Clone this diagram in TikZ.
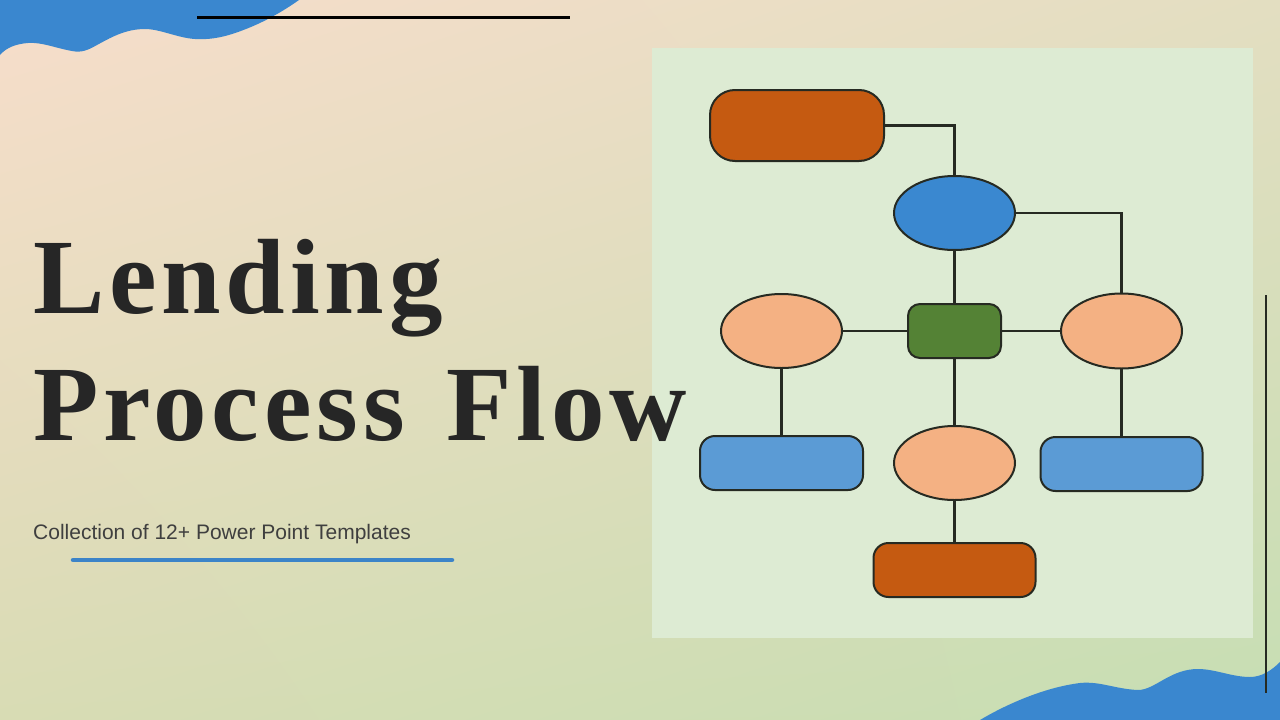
\documentclass[tikz,border=0pt]{standalone}
\usepackage{fontspec}
\setmainfont{Liberation Serif}
\newfontfamily\titlefont[LetterSpace=4.5]{Liberation Serif}
\newfontfamily\subfont{Liberation Sans}
\usetikzlibrary{shapes.geometric,shadings}
\definecolor{bgTL}{HTML}{F7DDCB}
\definecolor{bgTR}{HTML}{E3DEC1}
\definecolor{bgBL}{HTML}{D8DCB4}
\definecolor{bgBR}{HTML}{C6DEB3}
\definecolor{panelC}{HTML}{DDEBD3}
\definecolor{waveC}{HTML}{3A87CF}
\definecolor{orangeC}{HTML}{C55A11}
\definecolor{blueEl}{HTML}{3A88D0}
\definecolor{peachC}{HTML}{F4B183}
\definecolor{greenC}{HTML}{548235}
\definecolor{blueBox}{HTML}{5B9BD5}
\definecolor{lineC}{HTML}{262A22}
\definecolor{titleC}{HTML}{262626}
\definecolor{subC}{HTML}{3F3F3F}
\definecolor{ulineC}{HTML}{3C84C8}
\tikzset{
  shapebase/.style={draw=lineC, line width=2pt, inner sep=0pt, outer sep=0pt},
  pill/.style={shapebase, rectangle},
  oval/.style={shapebase, ellipse},
  link/.style={draw=lineC, line width=2.2pt},
  titletext/.style={anchor=base west, inner sep=0pt, text=titleC, font=\titlefont\bfseries\fontsize{107}{107}\selectfont},
}
\begin{document}
\begin{tikzpicture}[x=1pt,y=-1pt]
\useasboundingbox (0,0) rectangle (1280,720);
% background
\shade[upper left=bgTL, upper right=bgTR, lower left=bgBL, lower right=bgBR] (0,0) rectangle (1280,720);
% top-left wave
\fill[waveC] (0,0) -- (299,0)
  .. controls (282,12) and (264,22) .. (246,29)
  .. controls (226,37) and (211,40) .. (195,39)
  .. controls (178,38) and (160,29) .. (145,29)
  .. controls (125,29) and (110,38) .. (97,45)
  .. controls (88,50) and (82,53) .. (72,51)
  .. controls (55,48) and (42,42) .. (28,43)
  .. controls (15,44) and (6,48) .. (0,55) -- cycle;
% bottom-right wave
\fill[waveC] (1280,720) -- (980,720)
  .. controls (1000,708) and (1040,688) .. (1080,683)
  .. controls (1100,681) and (1115,689) .. (1138,690)
  .. controls (1155,690) and (1170,669) .. (1198,669)
  .. controls (1215,669) and (1232,677) .. (1250,677)
  .. controls (1262,677) and (1272,670) .. (1280,662) -- cycle;
% decorative lines
\draw[black, line width=2.4pt] (197,17.5) -- (570,17.5);
\draw[lineC, line width=2.2pt] (1266,295) -- (1266,693);
% panel
\fill[panelC] (652,48) rectangle (1253,638);
% title
\node[titletext] (t1) at (33,313) {Lending};
\node[titletext] (t2) at (33,440) {Process\hspace{10pt} Flow};
% subtitle
\node[anchor=base west, inner sep=0pt, text=subC, font=\subfont\fontsize{21}{21}\selectfont] (sub) at (33,539) {Collection of 12+ Power Point Templates};
\draw[ulineC, line width=4.5pt, line cap=round] (73,560) -- (452,560);
% diagram nodes
\node[pill, fill=orangeC, rounded corners=25pt, minimum width=174pt, minimum height=71pt] (o1) at (797,125.5) {};
\node[oval, fill=blueEl, minimum width=121pt, minimum height=74pt] (e1) at (954.5,213) {};
\node[pill, fill=greenC, rounded corners=12pt, minimum width=93pt, minimum height=54pt] (g) at (954.5,331) {};
\node[oval, fill=peachC, minimum width=121pt, minimum height=74pt] (pl) at (781.5,331) {};
\node[oval, fill=peachC, minimum width=121pt, minimum height=75pt] (pr) at (1121.5,331) {};
\node[oval, fill=peachC, minimum width=121pt, minimum height=74pt] (pb) at (954.5,463) {};
\node[pill, fill=blueBox, rounded corners=15pt, minimum width=163pt, minimum height=54pt] (bl) at (781.5,463) {};
\node[pill, fill=blueBox, rounded corners=15pt, minimum width=162pt, minimum height=54pt] (br) at (1121.5,464) {};
\node[pill, fill=orangeC, rounded corners=15pt, minimum width=162pt, minimum height=54pt] (o2) at (954.5,570) {};
% connectors
\draw[link] (o1.east) -| (e1.north);
\draw[link] (e1.east) -| (pr.north);
\draw[link] (e1.south) -- (g.north);
\draw[link] (pl.east) -- (g.west);
\draw[link] (g.east) -- (pr.west);
\draw[link] (pl.south) -- (bl.north);
\draw[link] (g.south) -- (pb.north);
\draw[link] (pr.south) -- (br.north);
\draw[link] (pb.south) -- (o2.north);
\end{tikzpicture}
\end{document}
